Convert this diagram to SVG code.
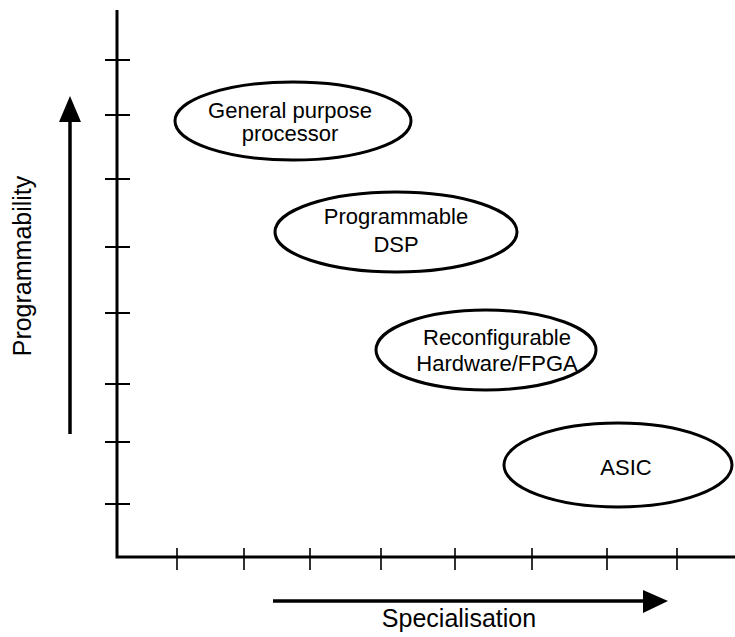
<svg xmlns="http://www.w3.org/2000/svg" width="735" height="637" viewBox="0 0 735 637">
<style>
.axis{stroke:#000;stroke-width:3;fill:none}
.tick{stroke:#000;stroke-width:2;fill:none}
.xtick{stroke:#000;stroke-width:1.6;fill:none}
.node{fill:#fff;stroke:#000;stroke-width:3}
.lbl{font-family:"Liberation Sans",Arial,sans-serif;font-size:22px;fill:#000;text-anchor:middle}
.ax{font-family:"Liberation Sans",Arial,sans-serif;font-size:25px;fill:#000;text-anchor:middle}
.arr{stroke:#000;stroke-width:3.5;fill:none}
</style>
<rect width="735" height="637" fill="#fff"/>
<g id="axes">
<path class="axis" d="M117 10 V557 H735"/>
<path class="tick" d="M105 60 H130 M105 115 H130 M105 179 H130 M105 247 H130 M105 313 H130 M105 384 H130 M105 442 H130 M105 504 H130"/>
<path class="xtick" d="M177 548 V570 M244 548 V570 M310 548 V570 M381 548 V570 M455 548 V570 M532 548 V570 M607 548 V570 M677 548 V570"/>
</g>
<g id="connectors">
<line class="arr" x1="70" y1="434" x2="70" y2="118"/>
<polygon points="70,96 59,122 81,122" fill="#000"/>
<line class="arr" x1="273" y1="601" x2="646" y2="601"/>
<polygon points="668,601 643,590 643,613" fill="#000"/>
</g>
<text class="ax" x="31" y="266" transform="rotate(-90 31 266)">Programmability</text>
<text class="ax" x="459" y="627">Specialisation</text>
<g id="gpp">
<ellipse class="node" cx="293" cy="121" rx="118" ry="39"/>
<text class="lbl" x="290" y="118">General purpose</text>
<text class="lbl" x="290" y="141">processor</text>
</g>
<g id="dsp">
<ellipse class="node" cx="396" cy="232" rx="121" ry="40"/>
<text class="lbl" x="396" y="224">Programmable</text>
<text class="lbl" x="396" y="252">DSP</text>
</g>
<g id="fpga">
<ellipse class="node" cx="486" cy="350" rx="110" ry="40"/>
<text class="lbl" x="497" y="345">Reconfigurable</text>
<text class="lbl" x="497" y="371">Hardware/FPGA</text>
</g>
<g id="asic">
<ellipse class="node" cx="618" cy="465" rx="114" ry="42"/>
<text class="lbl" x="626" y="475">ASIC</text>
</g>
</svg>
